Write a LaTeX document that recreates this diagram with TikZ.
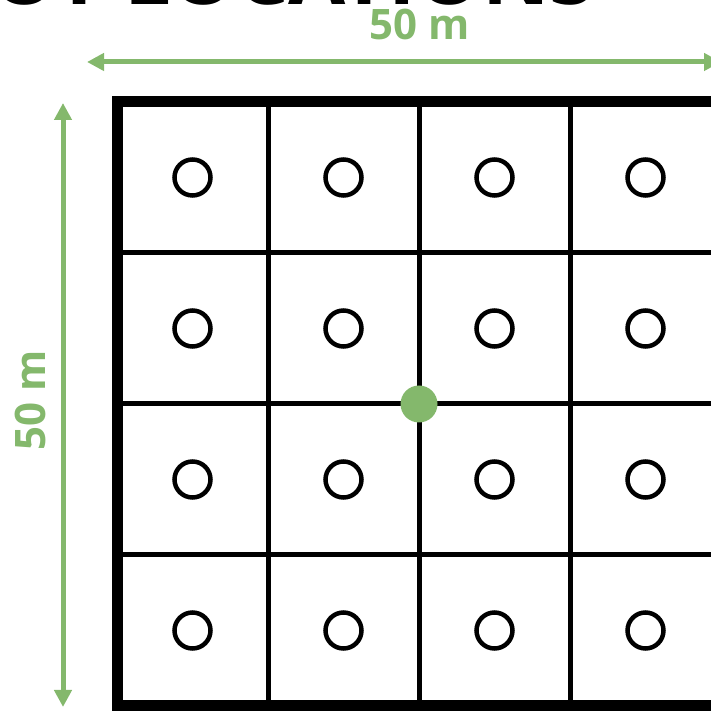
\documentclass[tikz,border=0pt]{standalone}
\usepackage{fontspec}
\setmainfont{Open Sans}
\usetikzlibrary{arrows.meta,positioning}
\definecolor{plotgreen}{RGB}{132,184,108}

\begin{document}
\begin{tikzpicture}[x=1pt, y=1pt,
    plot/.style={circle, draw, line width=4.5pt, minimum size=36pt, inner sep=0pt},
    centre/.style={circle, fill=plotgreen, minimum size=37pt, inner sep=0pt},
    dim/.style={{Triangle[length=17pt,width=17pt]}-{Triangle[length=17pt,width=17pt]}, line width=5pt, draw=plotgreen, fill=plotgreen},
    dimlabel/.style={text=plotgreen, font=\bfseries\fontsize{42}{42}\selectfont, inner sep=0pt}
]
\useasboundingbox (0,0) rectangle (710,711);

% Title (cut off at the top)
\node[anchor=base west, inner sep=0pt, font=\bfseries\fontsize{83}{83}\selectfont] (title) at (-106,706) {PLOT LOCATIONS};

% Grid lines
\foreach \k in {1,2,3} {
  \draw[line width=5pt] (117+151*\k,609) -- (117+151*\k,5);
  \draw[line width=5pt] (117,609-151*\k) -- (721,609-151*\k);
}
\draw[line width=11pt] (117,5) rectangle (721,609);

% Plot circles
\foreach \i in {1,...,4}
  \foreach \j in {1,...,4}
    \node[plot] (c\i\j) at (41.5+151*\i,684.5-151*\j) {};

% Centre point
\node[centre] (centre) at (419,307) {};

% Dimensions
\coordinate (wleft) at (87,649);
\coordinate (wright) at (721,649);
\coordinate (htop) at (63,608);
\coordinate (hbottom) at (63,4);
\draw[dim] (wleft) -- (wright);
\draw[dim] (htop) -- (hbottom);
\node[dimlabel, anchor=base] (width) at (420,671) {50 m};
\node[dimlabel, anchor=base, rotate=90] (height) at (45,311) {50 m};

\end{tikzpicture}
\end{document}
